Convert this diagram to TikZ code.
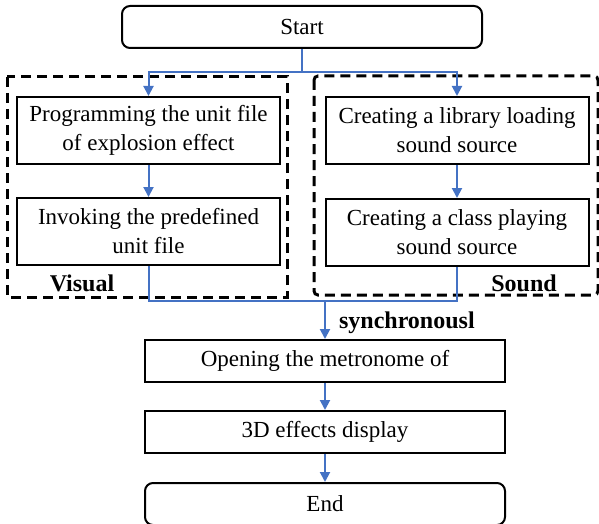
\documentclass[tikz,border=0pt]{standalone}
\usepackage{fontspec}
\setmainfont{Liberation Serif}
\usetikzlibrary{shapes,arrows.meta,positioning}

\definecolor{linkblue}{RGB}{68,114,196}

\begin{document}
\begin{tikzpicture}[x=0.5pt, y=-0.5pt, align=center, font=\fontsize{11.5}{14.5}\selectfont]
    \tikzset{
        n/.style        =   { rectangle
                            , text centered
                            , draw=black
                            , line width=1pt
                            , minimum width=131.5pt
                            , minimum height=33.5pt
                            , inner sep=0pt
        }
        , wide/.style   =   { n
                            , minimum width=180pt
                            , minimum height=21pt
        }
        , term/.style   =   { wide
                            , rounded corners=4pt
        }
        , link/.style   =   { draw=linkblue
                            , line width=1pt
                            , -{Triangle[width=5pt,length=5pt]}
        }
        , plain/.style  =   { draw=linkblue
                            , line width=1pt
        }
        , group/.style  =   { draw=black
                            , line width=1.5pt
                            , dash pattern=on 5pt off 3pt
        }
        , tag/.style    =   { font=\fontsize{12}{14}\selectfont\bfseries
        }
    }
    \useasboundingbox (0,0) rectangle (599,524);

    \draw[group] (7,77) rectangle (287,297);
    \draw[group, rounded corners=2pt] (314,76) rectangle (598,295);

    \node(start)[term] at (302,27) {Start};
    \node(vis1)[n] at (148.5,130.5) {Programming the unit file\\of explosion effect};
    \node(vis2)[n, below=16pt of vis1] {Invoking the predefined\\unit file};
    \node(snd1)[n] at (457,130.5) {Creating a library loading\\sound source};
    \node(snd2)[n, below=16.5pt of snd1] {Creating a class playing\\sound source};
    \node(open)[wide] at (325,361) {Opening the metronome of};
    \node(disp)[wide, below=13.5pt of open] {3D effects display};
    \node(end)[term, below=14pt of disp] {End};

    \node(vistag)[tag] at (82,283) {Visual};
    \node(sndtag)[tag] at (524,283) {Sound};
    \node(sync)[tag, anchor=west] at (332,323) {synchronousl};

    \coordinate(split) at (302,72);
    \coordinate(join) at (325,301);

    \draw[plain]      (start) -- (split);
    \draw[link]       (split) -| (vis1);
    \draw[link]       (split) -| (snd1);
    \draw[link]       (vis1) -- (vis2);
    \draw[link]       (snd1) -- (snd2);
    \draw[plain]      (vis2) |- (join);
    \draw[plain]      (snd2) |- (join);
    \draw[link]       (join) -- (open);
    \draw[link]       (open) -- (disp);
    \draw[link]       (disp) -- (end);
\end{tikzpicture}
\end{document}
